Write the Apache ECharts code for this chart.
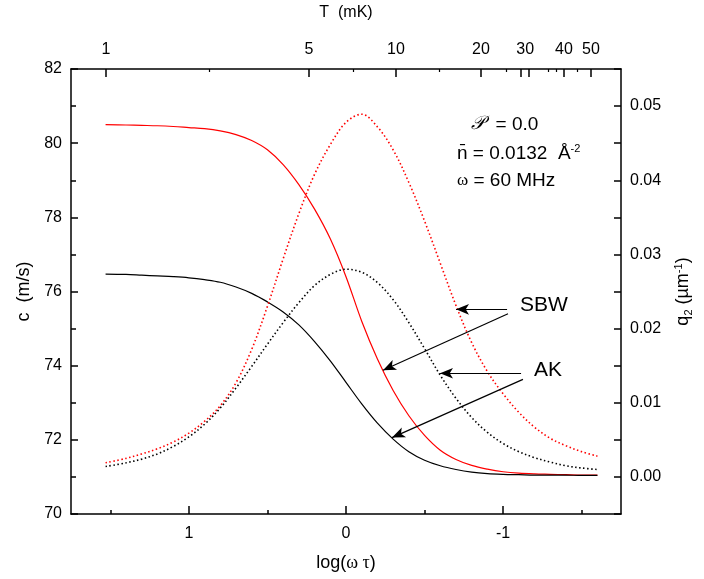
<!DOCTYPE html>
<html>
<head>
<meta charset="utf-8">
<script src="https://cdn.jsdelivr.net/npm/echarts@6/dist/echarts.min.js"></script>
<style>html,body{margin:0;padding:0;background:#fff;}#c{width:704px;height:579px;}</style>
</head>
<body>
<div id="c"></div>
<script>
// log(omega tau) sample positions (x)
const logWT = [1.53, 1.4, 1.3, 1.2, 1.1, 1.0, 0.9, 0.8, 0.7, 0.6, 0.5, 0.4, 0.3, 0.2, 0.1, 0.0, -0.1, -0.2, -0.3, -0.4, -0.5, -0.6, -0.7, -0.8, -0.9, -1.0, -1.1, -1.2, -1.3, -1.4, -1.5, -1.6];
// sound velocity c (m/s)
const sbwC = [80.50, 80.49, 80.48, 80.47, 80.45, 80.42, 80.39, 80.33, 80.23, 80.07, 79.82, 79.42, 78.88, 78.22, 77.42, 76.40, 75.20, 74.18, 73.33, 72.65, 72.12, 71.72, 71.47, 71.31, 71.21, 71.14, 71.10, 71.08, 71.07, 71.06, 71.05, 71.05];
const akC  = [76.47, 76.46, 76.44, 76.42, 76.40, 76.37, 76.32, 76.25, 76.12, 75.95, 75.72, 75.45, 75.10, 74.65, 74.13, 73.55, 72.97, 72.45, 72.02, 71.68, 71.45, 71.30, 71.20, 71.13, 71.09, 71.07, 71.06, 71.05, 71.05, 71.05, 71.04, 71.04];
// attenuation q2 (um^-1)
const sbwQ = [0.0019, 0.0025, 0.0031, 0.0038, 0.0047, 0.0059, 0.0075, 0.0096, 0.0127, 0.0172, 0.0230, 0.0294, 0.0355, 0.0408, 0.0448, 0.0478, 0.0489, 0.0472, 0.0441, 0.0397, 0.0345, 0.0288, 0.0231, 0.0181, 0.0142, 0.0112, 0.0087, 0.0067, 0.0052, 0.0042, 0.0034, 0.0028];
const akQ  = [0.0014, 0.0019, 0.0024, 0.0031, 0.0041, 0.0054, 0.0071, 0.0093, 0.0120, 0.0149, 0.0179, 0.0208, 0.0235, 0.0258, 0.0273, 0.0280, 0.0276, 0.0262, 0.0239, 0.0208, 0.0173, 0.0137, 0.0106, 0.0080, 0.0060, 0.0045, 0.0034, 0.0026, 0.0020, 0.0015, 0.0012, 0.0010];
// bottom axis ticks
const bottomMajor = [1, 0, -1];
const bottomMinor = [1.5, 0.5, -0.5, -1.5];
// top T (mK) axis: tick labels and their positions in log(omega tau)
const topLabels = ['1', '5', '10', '20', '30', '40', '50'];
const topLabelPos = [1.527, 0.2355, -0.318, -0.859, -1.14, -1.387, -1.559];
const topMajorTicks = [1.527, 0.2355, -0.318, -0.859, -1.114, -1.165, -1.387, -1.559];
const topMinorTicks = [0.872, -0.045, -0.592, -1.018, -1.285, -1.336, -1.470];
// annotation arrows (data coords on c axis): [x1,y1,x2,y2]
const sbwArrows = [[-1.025, 75.52, -0.70, 75.52], [-1.031, 75.40, -0.2355, 73.875]];
const akArrows  = [[-1.114, 73.795, -0.598, 73.795], [-1.126, 73.63, -0.293, 72.06]];

const FONT = '"Liberation Sans", Arial, sans-serif';
const pair = (xs, ys) => xs.map((x, i) => [x, ys[i]]);
const axisLineStyle = { color: '#000', width: 1.5 };

function arrowData(list) {
  return list.map(a => [
    { coord: [a[0], a[1]], symbol: 'none' },
    { coord: [a[2], a[3]], symbol: 'arrow' }
  ]);
}

const chart = echarts.init(document.getElementById('c'), null, { renderer: 'canvas' });
const baseX = { type: 'value', min: -1.75, max: 1.75, inverse: true, splitLine: { show: false } };

chart.setOption({
  animation: false,
  backgroundColor: '#fff',
  grid: { left: 71, right: 83, top: 65, bottom: 65, containLabel: false },
  xAxis: [
    Object.assign({}, baseX, {
      position: 'bottom',
      axisLine: { show: true, onZero: false, lineStyle: axisLineStyle },
      axisTick: { show: true, inside: true, length: 8, customValues: bottomMajor, lineStyle: { color: '#000', width: 1.5 } },
      axisLabel: { customValues: bottomMajor, color: '#000', fontFamily: FONT, fontSize: 16, margin: 12, formatter: v => String(v) },
      name: '{t|log(}{g|ω τ}{t|)}', nameLocation: 'middle', nameGap: 40,
      nameTextStyle: { rich: { t: { fontFamily: FONT, fontSize: 18, color: '#000' }, g: { fontFamily: '"Liberation Serif", serif', fontSize: 18, color: '#000' } } }
    }),
    Object.assign({}, baseX, {
      position: 'bottom',
      axisLine: { show: false, onZero: false },
      axisTick: { show: true, inside: true, length: 4, customValues: bottomMinor, lineStyle: { color: '#000', width: 1.5 } },
      axisLabel: { show: false }
    }),
    Object.assign({}, baseX, {
      position: 'top',
      axisLine: { show: true, onZero: false, lineStyle: axisLineStyle },
      axisTick: { show: true, inside: true, length: 8, customValues: topMajorTicks, lineStyle: { color: '#000', width: 1.5 } },
      axisLabel: {
        customValues: topLabelPos, color: '#000', fontFamily: FONT, fontSize: 16, margin: 11,
        formatter: v => {
          let best = 0;
          topLabelPos.forEach((p, i) => { if (Math.abs(p - v) < Math.abs(topLabelPos[best] - v)) best = i; });
          return topLabels[best];
        }
      },
      name: 'T  (mK)', nameLocation: 'middle', nameGap: 48,
      nameTextStyle: { fontFamily: FONT, fontSize: 16, color: '#000' }
    }),
    Object.assign({}, baseX, {
      position: 'top',
      axisLine: { show: false, onZero: false },
      axisTick: { show: true, inside: true, length: 3, customValues: topMinorTicks, lineStyle: { color: '#000', width: 1.2 } },
      axisLabel: { show: false }
    })
  ],
  yAxis: [
    {
      type: 'value', position: 'left', min: 70, max: 82, interval: 2,
      splitLine: { show: false },
      axisLine: { show: true, onZero: false, lineStyle: axisLineStyle },
      axisTick: { show: true, inside: true, length: 7, lineStyle: { color: '#000', width: 1.5 } },
      minorTick: { show: true, splitNumber: 2, length: 5, lineStyle: { color: '#000', width: 1.5 } },
      axisLabel: { color: '#000', fontFamily: FONT, fontSize: 16, margin: 9 },
      name: 'c  (m/s)', nameLocation: 'middle', nameGap: 38, nameRotate: 90,
      nameTextStyle: { fontFamily: FONT, fontSize: 18, color: '#000' }
    },
    {
      type: 'value', position: 'right', min: -0.005, max: 0.055, interval: 0.005,
      splitLine: { show: false },
      axisLine: { show: true, onZero: false, lineStyle: axisLineStyle },
      axisTick: { show: true, inside: true, length: 7, lineStyle: { color: '#000', width: 1.5 } },
      axisLabel: {
        color: '#000', fontFamily: FONT, fontSize: 16, margin: 9,
        formatter: v => {
          const k = Math.round(v * 1000);
          if (k % 10 !== 0 || k < 0 || k > 50) return '';
          return (k / 1000).toFixed(2);
        }
      },
      name: '{t|q}{s|2}{t| (µm}{p|-1}{t|)}', nameLocation: 'middle', nameGap: 52, nameRotate: 90,
      nameTextStyle: {
        rich: {
          t: { fontFamily: FONT, fontSize: 18, color: '#000' },
          s: { fontFamily: FONT, fontSize: 11, color: '#000', padding: [10, 0, 0, 0] },
          p: { fontFamily: FONT, fontSize: 11, color: '#000', padding: [0, 0, 10, 0] }
        }
      }
    }
  ],
  series: [
    {
      name: 'SBW c', type: 'line', xAxisIndex: 0, yAxisIndex: 0, data: pair(logWT, sbwC),
      smooth: 0.35, showSymbol: false, symbol: 'none', lineStyle: { color: '#ff0000', width: 1.2 },
      markLine: {
        silent: true, symbolSize: [8, 13], label: { show: false },
        lineStyle: { color: '#000', width: 1.2, type: 'solid' },
        data: arrowData(sbwArrows)
      }
    },
    {
      name: 'AK c', type: 'line', xAxisIndex: 0, yAxisIndex: 0, data: pair(logWT, akC),
      smooth: 0.35, showSymbol: false, symbol: 'none', lineStyle: { color: '#000', width: 1.2 },
      markLine: {
        silent: true, symbolSize: [8, 13], label: { show: false },
        lineStyle: { color: '#000', width: 1.2, type: 'solid' },
        data: arrowData(akArrows)
      }
    },
    {
      name: 'SBW q2', type: 'line', xAxisIndex: 0, yAxisIndex: 1, data: pair(logWT, sbwQ),
      smooth: 0.35, showSymbol: false, symbol: 'none', lineStyle: { color: '#ff0000', width: 1.6, type: [1.5, 2.5] }
    },
    {
      name: 'AK q2', type: 'line', xAxisIndex: 0, yAxisIndex: 1, data: pair(logWT, akQ),
      smooth: 0.35, showSymbol: false, symbol: 'none', lineStyle: { color: '#000', width: 1.6, type: [1.5, 2.5] }
    }
  ],
  graphic: [
    { type: 'text', left: 471, top: 115, style: { text: '{s|𝒫}{t|  = 0.0}', rich: { s: { fontFamily: '"DejaVu Serif", serif', fontStyle: 'italic', fontSize: 19, fill: '#000' }, t: { fontFamily: FONT, fontSize: 19, fill: '#000' } } } },
    { type: 'text', left: 457, top: 143, style: { text: '{t|n̄ = 0.0132  Å}{p|-2}', rich: { t: { fontFamily: FONT, fontSize: 19, fill: '#000' }, p: { fontFamily: FONT, fontSize: 11, fill: '#000', padding: [0, 0, 10, 0] } } } },
    { type: 'text', left: 457, top: 171, style: { text: '{g|ω}{t| = 60 MHz}', rich: { g: { fontFamily: '"Liberation Serif", serif', fontSize: 17, fill: '#000' }, t: { fontFamily: FONT, fontSize: 19, fill: '#000' } } } },
    { type: 'text', left: 520, top: 295, style: { text: 'SBW', fontFamily: FONT, fontSize: 21, fill: '#000' } },
    { type: 'text', left: 534, top: 360, style: { text: 'AK', fontFamily: FONT, fontSize: 21, fill: '#000' } }
  ]
});
</script>
</body>
</html>
